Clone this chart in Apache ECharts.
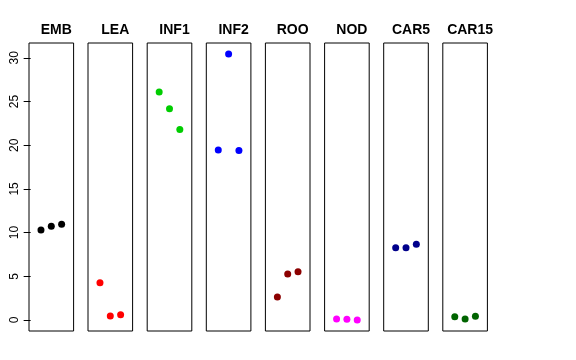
<!DOCTYPE html>
<html><head><meta charset="utf-8">
<script src="https://cdn.jsdelivr.net/npm/echarts@6/dist/echarts.min.js"></script>
<style>html,body{margin:0;padding:0;background:#fff}#c{width:576px;height:360px}</style>
</head><body><div id="c"></div>
<script>
const panels = ["EMB","LEA","INF1","INF2","ROO","NOD","CAR5","CAR15"];
const colors = ["#000000","#FF0000","#00CD00","#0000FF","#8B0000","#FF00FF","#00008B","#006400"];
const xPos = [1,2,3];
const valEMB = [10.3,10.72,10.95];
const valLEA = [4.27,0.46,0.61];
const valINF1 = [26.1,24.18,21.8];
const valINF2 = [19.45,30.45,19.4];
const valROO = [2.63,5.26,5.53];
const valNOD = [0.11,0.08,0.0];
const valCAR5 = [8.27,8.27,8.66];
const valCAR15 = [0.38,0.11,0.42];
const yTicks = [0,5,10,15,20,25,30];
const allVals = [valEMB,valLEA,valINF1,valINF2,valROO,valNOD,valCAR5,valCAR15];

const lefts = [29,88,147.2,206.3,265.4,324.6,383.7,442.8];
const W = 44.6, TOP = 43, H = 288;
const grids=[],xAxes=[],yAxes=[],series=[],titles=[];
panels.forEach((p,i)=>{
  grids.push({left:lefts[i],top:TOP,width:W,height:H,show:true,borderColor:'#000',borderWidth:1,backgroundColor:'transparent'});
  xAxes.push({gridIndex:i,type:'value',min:-0.16,max:4.16,show:false});
  yAxes.push({gridIndex:i,type:'value',min:-1.26,max:31.7,show:i===0,splitLine:{show:false},
    axisLine:{show:false},
    axisTick:{show:true,inside:false,length:7,lineStyle:{color:'#000'},customValues:yTicks},
    axisLabel:{show:true,rotate:90,margin:14,fontSize:12,color:'#000',fontFamily:'Liberation Sans, Arial, sans-serif',customValues:yTicks,verticalAlign:'middle',align:'center'}});
  series.push({type:'scatter',xAxisIndex:i,yAxisIndex:i,symbol:'circle',symbolSize:7,
    itemStyle:{color:colors[i],opacity:1},silent:true,
    data:xPos.map((x,j)=>[x,allVals[i][j]])});
  titles.push({text:p,left:lefts[i]+W/2,top:18,textAlign:'center',
    textStyle:{fontSize:14,fontWeight:'bold',color:'#000',fontFamily:'Liberation Sans, Arial, sans-serif'}});
});
const chart = echarts.init(document.getElementById('c'),null,{renderer:'canvas'});
chart.setOption({animation:false,title:titles,grid:grids,xAxis:xAxes,yAxis:yAxes,series:series});
</script></body></html>
